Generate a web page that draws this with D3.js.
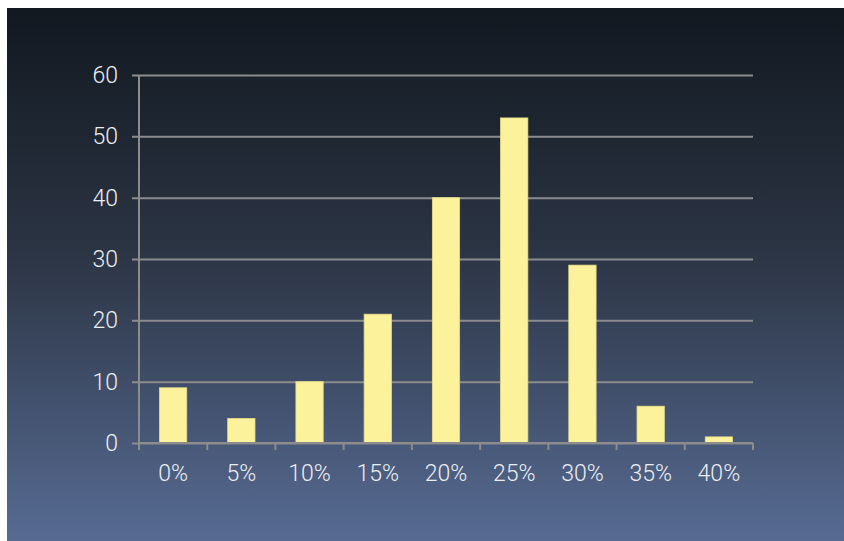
<!DOCTYPE html>
<html>
<head>
<meta charset="utf-8">
<script src="https://cdn.jsdelivr.net/npm/d3@7"></script>
<style>
  html, body { margin: 0; padding: 0; background: #ffffff; }
  svg { display: block; }
</style>
</head>
<body>
<svg id="chart" width="844" height="541"></svg>
<script>
// Distribution of counts per percentage bucket
const categories = ["0%", "5%", "10%", "15%", "20%", "25%", "30%", "35%", "40%"];
const counts = [9, 4, 10, 21, 40, 53, 29, 6, 1];
const yTicks = [0, 10, 20, 30, 40, 50, 60];

const svg = d3.select("#chart");
const W = 844, H = 541;
const margin = { left: 139, right: 91, top: 75, bottom: 98 };

// Background panel with vertical gradient
const defs = svg.append("defs");
const grad = defs.append("linearGradient")
  .attr("id", "bg").attr("x1", 0).attr("y1", 0).attr("x2", 0).attr("y2", 1);
grad.append("stop").attr("offset", "0%").attr("stop-color", "#111820");
grad.append("stop").attr("offset", "45%").attr("stop-color", "#2b3443");
grad.append("stop").attr("offset", "100%").attr("stop-color", "#576b93");

svg.append("rect")
  .attr("x", 7).attr("y", 8)
  .attr("width", W - 7).attr("height", H - 8)
  .attr("fill", "url(#bg)");

const x = d3.scaleBand()
  .domain(categories)
  .range([margin.left, W - margin.right])
  .paddingInner(0)
  .paddingOuter(0);

const y = d3.scaleLinear()
  .domain([0, 60])
  .range([H - margin.bottom, margin.top]);

const gridColor = "#8c8c8c";
const textColor = "#eceef2";
const font = "Roboto, 'Liberation Sans', Arial, sans-serif";
const fontSize = "23px";

// Horizontal gridlines with short ticks to the left of the axis
const yAxis = d3.axisLeft(y)
  .tickValues(yTicks)
  .tickSize(-(W - margin.right - margin.left))
  .tickSizeOuter(0)
  .tickPadding(21)
  .tickFormat(d3.format("d"));

const gy = svg.append("g")
  .attr("transform", `translate(${margin.left},0)`)
  .call(yAxis);
gy.select(".domain").remove();
gy.selectAll(".tick line")
  .attr("x1", -7)
  .attr("stroke", gridColor)
  .attr("stroke-width", 2);
gy.selectAll(".tick text")
  .attr("fill", textColor)
  .style("font-family", font)
  .style("font-size", fontSize)
  .style("font-weight", "300");

// Vertical axis line
svg.append("line")
  .attr("x1", margin.left).attr("x2", margin.left)
  .attr("y1", y(60)).attr("y2", y(0) + 6)
  .attr("stroke", gridColor).attr("stroke-width", 2);

// Bars
const barW = x.bandwidth() * 0.4;
svg.append("g").selectAll("rect")
  .data(categories.map((c, i) => ({ c, v: counts[i] })))
  .join("rect")
  .attr("x", d => x(d.c) + (x.bandwidth() - barW) / 2)
  .attr("y", d => y(d.v))
  .attr("width", barW)
  .attr("height", d => y(0) - y(d.v))
  .attr("fill", "#fcf29b")
  .attr("stroke", "#e6dc88")
  .attr("stroke-width", 0.8);

// Bottom axis: baseline, tick marks at band edges, centred labels
const gx = svg.append("g")
  .attr("transform", `translate(0,${y(0)})`);
gx.append("line")
  .attr("x1", margin.left).attr("x2", W - margin.right)
  .attr("stroke", gridColor).attr("stroke-width", 2);

const edges = categories.map(c => x(c)).concat([W - margin.right]);
gx.selectAll("line.edge")
  .data(edges)
  .join("line")
  .attr("class", "edge")
  .attr("x1", d => d).attr("x2", d => d)
  .attr("y1", 0).attr("y2", 7)
  .attr("stroke", gridColor).attr("stroke-width", 2);

gx.selectAll("text")
  .data(categories)
  .join("text")
  .attr("x", d => x(d) + x.bandwidth() / 2)
  .attr("y", 38)
  .attr("text-anchor", "middle")
  .attr("fill", textColor)
  .style("font-family", font)
  .style("font-size", fontSize)
  .style("font-weight", "300")
  .text(d => d);
</script>
</body>
</html>
